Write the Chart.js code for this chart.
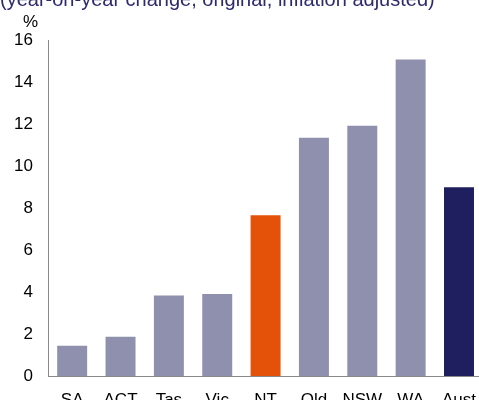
<!DOCTYPE html>
<html>
<head>
<meta charset="utf-8">
<script src="https://cdn.jsdelivr.net/npm/chart.js@4"></script>
<style>
    html, body { margin: 0; padding: 0; background: #ffffff; overflow: hidden; width: 479px; height: 400px; }
    #wrap { position: relative; width: 479px; height: 400px; overflow: hidden; }
    #chart { position: absolute; left: 0; top: 0; }
    .note { position: absolute; font-family: 'Liberation Sans', Arial, sans-serif; white-space: nowrap; line-height: 20px; }
    #subtitle { left: 0; top: -11px; font-size: 20px; color: #2d2b6e; }
    #unit { left: 23px; top: 12px; font-size: 17px; color: #000000; }
</style>
</head>
<body>
<div id="wrap">
    <canvas id="chart" width="490" height="420"></canvas>
    <div id="subtitle" class="note">(year-on-year change, original, inflation adjusted)</div>
    <div id="unit" class="note">%</div>
</div>
<script>
const regions = ['SA', 'ACT', 'Tas', 'Vic', 'NT', 'Qld', 'NSW', 'WA', 'Aust'];
const growth = [1.44, 1.87, 3.83, 3.91, 7.66, 11.35, 11.92, 15.07, 8.99];
const yTicks = [0, 2, 4, 6, 8, 10, 12, 14, 16];

const stateColor = '#8f90ae';
const highlightColor = '#e4520a';
const totalColor = '#1f1e5e';

function barColor(region) {
    if (region === 'NT') return highlightColor;
    if (region === 'Aust') return totalColor;
    return stateColor;
}

function init() {
    const ctx = document.getElementById('chart').getContext('2d');
    new Chart(ctx, {
        type: 'bar',
        data: {
            labels: regions,
            datasets: [
                {
                    data: growth,
                    backgroundColor: regions.map(barColor),
                    borderWidth: 0,
                    barPercentage: 0.62,
                    categoryPercentage: 1,
                },
            ],
        },
        options: {
            responsive: false,
            animation: false,
            devicePixelRatio: 1,
            layout: {
                padding: { top: 40, right: 0, bottom: 0, left: 0 },
            },
            plugins: {
                legend: { display: false },
                tooltip: { enabled: false },
            },
            scales: {
                x: {
                    grid: { display: false, drawTicks: false },
                    border: { display: true, color: '#8a8a8a', width: 1 },
                    ticks: {
                        color: '#000000',
                        padding: 14,
                        font: { family: "'Liberation Sans', Arial, sans-serif", size: 17 },
                    },
                    afterFit: (scale) => {
                        scale.height = 44;
                    },
                },
                y: {
                    min: 0,
                    max: 16,
                    afterBuildTicks: (scale) => {
                        scale.ticks = yTicks.map((v) => ({ value: v }));
                    },
                    grid: { display: false, drawTicks: false },
                    border: { display: true, color: '#8a8a8a', width: 1 },
                    ticks: {
                        color: '#000000',
                        padding: 15,
                        font: { family: "'Liberation Sans', Arial, sans-serif", size: 17 },
                    },
                    afterFit: (scale) => {
                        scale.width = 48;
                    },
                },
            },
        },
    });
}

document.addEventListener('DOMContentLoaded', init);
</script>
</body>
</html>
